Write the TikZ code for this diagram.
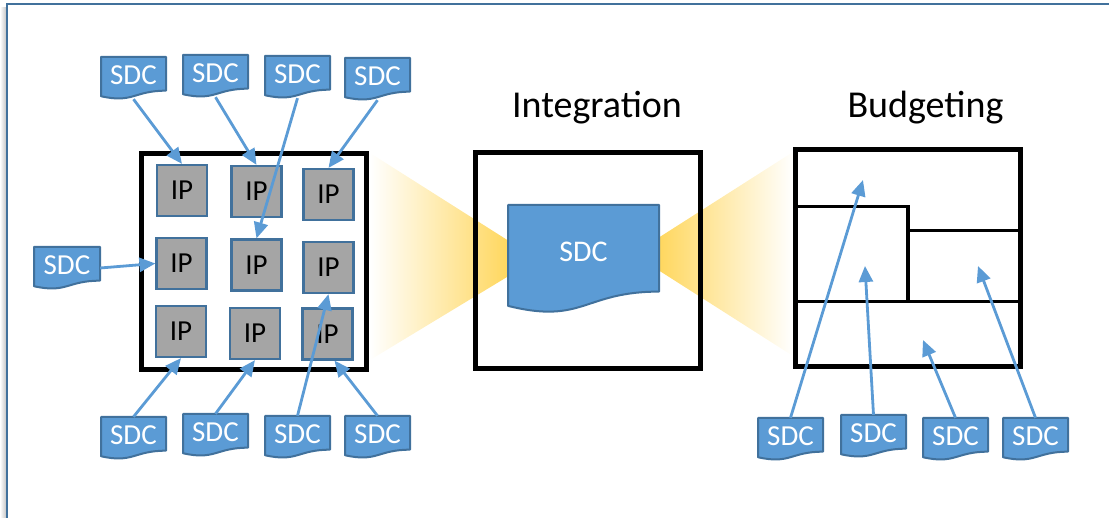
\documentclass[tikz,border=0pt]{standalone}
\usepackage{fontspec}
\setmainfont{Carlito}
\usetikzlibrary{arrows.meta}
\definecolor{docblue}{RGB}{91,155,213}
\definecolor{docedge}{RGB}{65,113,156}
\definecolor{ipgray}{RGB}{165,165,165}
\definecolor{conecol}{RGB}{255,214,90}
\definecolor{framecol}{RGB}{65,113,156}
\tikzset{
  docfill/.style={fill=docblue, draw=docedge, line width=2pt, line join=round},
  ipbox/.style={draw=docedge, fill=ipgray, line width=2.2pt, minimum width=50pt, minimum height=51pt, inner sep=0pt, font=\fontsize{29}{32}\selectfont},
  bigbox/.style={draw=black, line width=5.5pt, inner sep=0pt},
  sdcarrow/.style={draw=docblue, line width=2.8pt, -{Triangle[length=16pt,width=14pt]}},
  title/.style={anchor=base, font=\fontsize{38}{42}\selectfont}
}
% #1 name, #2 left, #3 top, #4 width, #5 height, #6 font size
\newcommand\sdcdoc[6]{%
  \begin{scope}[shift={(#2,#3)}]
    \path[docfill] (0,0) -- (#4,0) -- (#4,{0.802*#5})
      .. controls ({0.5*#4},{0.802*#5}) and ({0.5*#4},{1.108*#5}) .. (0,{0.934*#5}) -- cycle;
  \end{scope}
  \node[inner sep=0pt, minimum width=#4pt, minimum height=#5pt,
    label={[text=white, font=\fontsize{#6}{#6}\selectfont, yshift=0.07*#5pt]center:SDC}]
    (#1) at ({#2+#4/2},{#3+#5/2}) {};
}
\begin{document}
\begin{tikzpicture}[x=1pt, y=-1pt]
\useasboundingbox (0,0) rectangle (1109,518);
% frame
\shade[left color=white, right color=black!22] (0,8) rectangle (6,518);
\draw[framecol, line width=2.5pt] (7,530) -- (7,4) -- (1120,4);

% cones
\shade[left color=white, right color=conecol] (370,153) -- (370,360) -- (512,274) -- (512,243) -- cycle;
\shade[left color=conecol, right color=white] (655,240) -- (793,152) -- (793,356) -- (655,268) -- cycle;

% big boxes
\node[bigbox, minimum width=225pt, minimum height=216pt] (chip) at (254,261.5) {};
\node[bigbox, minimum width=225pt, minimum height=216pt] (integ) at (588,260.5) {};
\node[bigbox, minimum width=225pt, minimum height=217pt] (budget) at (908,258) {};
\draw[line width=3.2pt] (795.5,206.5) -- (908,206.5) -- (908,301.5);
\draw[line width=3.2pt] (908,230.5) -- (1020.5,230.5);
\draw[line width=3.2pt] (795.5,301.5) -- (1020.5,301.5);

% titles
\node[title] (tint) at (597,118) {Integration};
\node[title] (tbud) at (925.5,118) {Budgeting};

% IP blocks
\node[ipbox] (ip11) at (182,190.5) {IP};
\node[ipbox] (ip12) at (256.5,191.5) {IP};
\node[ipbox] (ip13) at (328.5,194.5) {IP};
\node[ipbox] (ip21) at (181.5,263.5) {IP};
\node[ipbox] (ip22) at (256.5,265) {IP};
\node[ipbox] (ip23) at (328.5,267.5) {IP};
\node[ipbox] (ip31) at (181,331.5) {IP};
\node[ipbox] (ip32) at (255,333.5) {IP};
\node[ipbox] (ip33) at (327.5,334) {IP};

% big SDC
\sdcdoc{bigsdc}{508}{205}{151}{108}{30}

% small SDCs
\sdcdoc{t1}{101}{57}{65}{42}{29}
\sdcdoc{t2}{183}{55}{65}{42}{29}
\sdcdoc{t3}{265}{56}{65}{42}{29}
\sdcdoc{t4}{345}{58}{65}{42}{29}
\sdcdoc{lf}{34}{247}{66}{42}{29}
\sdcdoc{b1}{101}{417}{65}{42}{29}
\sdcdoc{b2}{183}{414}{65}{42}{29}
\sdcdoc{b3}{265}{416}{65}{42}{29}
\sdcdoc{b4}{345}{416}{65}{42}{29}
\sdcdoc{r1}{758}{418}{65}{42}{29}
\sdcdoc{r2}{841}{415}{65}{42}{29}
\sdcdoc{r3}{923}{418}{65}{42}{29}
\sdcdoc{r4}{1003}{418}{65}{42}{29}

% budget targets
\coordinate (g1) at (863,180);
\coordinate (g2) at (865,266);
\coordinate (g3) at (923,340);
\coordinate (g4) at (978,266);

% arrows
\draw[sdcarrow] (t1.south) -- (ip11.north);
\draw[sdcarrow] (t2.south) -- (ip12.north);
\draw[sdcarrow] (t3.south) -- (ip22.north);
\draw[sdcarrow] (t4.south) -- (ip13.north);
\draw[sdcarrow] (lf.east) -- (ip21.west);
\draw[sdcarrow] (b1.north) -- (ip31.south);
\draw[sdcarrow] (b2.north) -- (ip32.south);
\draw[sdcarrow] (b3.north) -- (ip23.south);
\draw[sdcarrow] (b4.north) -- ([xshift=7pt]ip33.south);
\draw[sdcarrow] (r1.north) -- (g1);
\draw[sdcarrow] (r2.north) -- (g2);
\draw[sdcarrow] (r3.north) -- (g3);
\draw[sdcarrow] (r4.north) -- (g4);
\end{tikzpicture}
\end{document}
